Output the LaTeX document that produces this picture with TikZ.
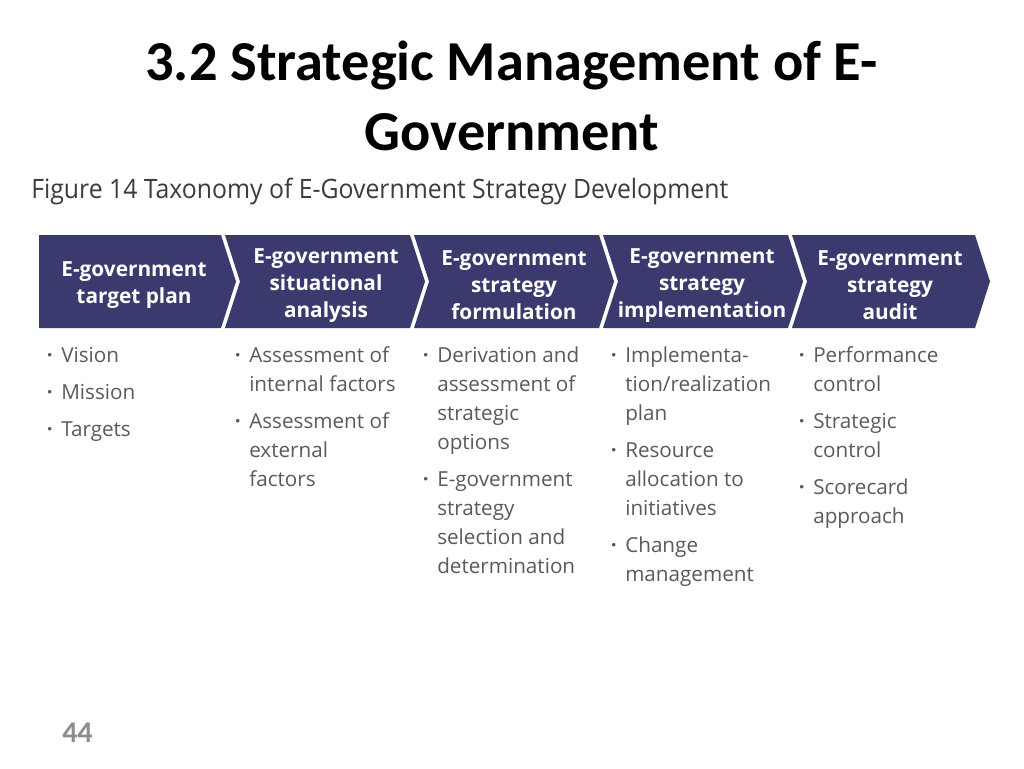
\documentclass[tikz,border=0pt]{standalone}
\usepackage{fontspec}
\usepackage{graphicx}
\setmainfont{Open Sans}
\newfontfamily\titlefont{Carlito}
\definecolor{navy}{RGB}{59,58,110}
\definecolor{bodygray}{RGB}{90,90,90}
\definecolor{capgray}{RGB}{60,60,60}
\definecolor{pagegray}{RGB}{140,140,140}
\newcommand\bul{\llap{{\bfseries ·}\hspace{6.4pt}}}
\tikzset{
  band/.style={fill=navy, draw=none},
  headtxt/.style={text=white, font=\bfseries\fontsize{15.6}{20.2}\selectfont, align=center, inner sep=0pt},
  listtxt/.style={text=bodygray, font=\fontsize{15.5}{21.75}\selectfont, align=left, inner sep=0pt, anchor=north west},
}
\begin{document}
\begin{tikzpicture}[x=0.75pt, y=-0.75pt]
\useasboundingbox (0,0) rectangle (1024,768);
\fill[white] (0,0) rectangle (1024,768);
% title
\node[inner sep=0pt, anchor=base, font=\titlefont\bfseries\fontsize{42.3}{52}\selectfont] (t1) at (511.5,80) {3.2 Strategic Management of E-};
\node[inner sep=0pt, anchor=base, font=\titlefont\bfseries\fontsize{42.3}{52}\selectfont] (t2) at (512,150) {Government};
% caption
\node[inner sep=0pt, anchor=base west, text=capgray, font=\fontsize{20}{24}\selectfont] (cap) at (31,198.5) {\resizebox{522.75pt}{\height}{Figure 14 Taxonomy of E-Government Strategy Development}};
% chevrons
\fill[band] (39,235) -- (221,235) -- (236,281.5) -- (221,328) -- (39,328) -- cycle;
\fill[band] (225,235) -- (410,235) -- (425,281.5) -- (410,328) -- (225,328) -- (240,281.5) -- cycle;
\fill[band] (414,235) -- (599,235) -- (614,281.5) -- (599,328) -- (414,328) -- (429,281.5) -- cycle;
\fill[band] (603,235) -- (788,235) -- (803,281.5) -- (788,328) -- (603,328) -- (618,281.5) -- cycle;
\fill[band] (792,235) -- (975,235) -- (990,281.5) -- (975,328) -- (792,328) -- (807,281.5) -- cycle;
% headers
\node[headtxt] (h1) at (134,285.5) {E-government\\target plan};
\node[headtxt] (h2) at (326,285.5) {E-government\\situational\\analysis};
\node[headtxt] (h3) at (514,285.5) {E-government\\strategy\\formulation};
\node[headtxt] (h4) at (702,285.5) {E-government\\strategy\\implementation};
\node[headtxt] (h5) at (890,285.5) {E-government\\strategy\\audit};
% lists (first baseline at y=362)
\node[listtxt] (l1) at (61,341.7) {\strut\bul Vision\\[6pt]\bul Mission\\[6pt]\bul Targets};
\node[listtxt] (l2) at (249,341.7) {\strut\bul Assessment of\\internal factors\\[6pt]\bul Assessment of\\external\\factors};
\node[listtxt] (l3) at (437,341.7) {\strut\bul Derivation and\\assessment of\\strategic\\options\\[6pt]\bul E-government\\strategy\\selection and\\determination};
\node[listtxt] (l4) at (625,341.7) {\strut\bul Implementa-\\tion/realization\\plan\\[6pt]\bul Resource\\allocation to\\initiatives\\[6pt]\bul Change\\management};
\node[listtxt] (l5) at (813,341.7) {\strut\bul Performance\\control\\[6pt]\bul Strategic\\control\\[6pt]\bul Scorecard\\approach};
% page number
\node[inner sep=0pt, anchor=base west, text=pagegray, font=\titlefont\bfseries\fontsize{22.5}{26}\selectfont] (pg) at (62,742) {44};
\end{tikzpicture}
\end{document}
